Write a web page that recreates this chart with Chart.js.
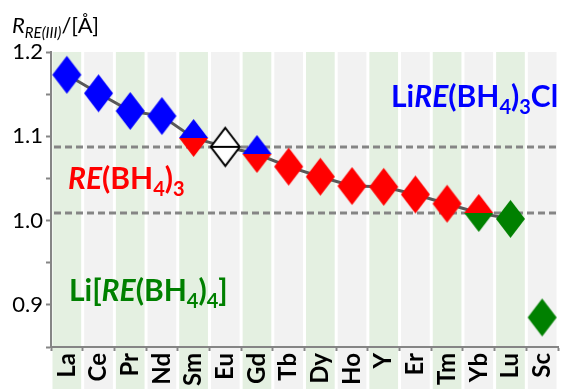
<!DOCTYPE html>
<html>
<head>
<meta charset="utf-8">
<script src="https://cdn.jsdelivr.net/npm/chart.js@4"></script>
<style>
  html, body { margin: 0; padding: 0; background: #fff; }
  #wrap { width: 574px; height: 389px; }
</style>
</head>
<body>
<div id="wrap"><canvas id="radii-chart" width="574" height="389"></canvas></div>
<script>
// Data
const elements = ['La', 'Ce', 'Pr', 'Nd', 'Sm', 'Eu', 'Gd', 'Tb', 'Dy', 'Ho', 'Y', 'Er', 'Tm', 'Yb', 'Lu', 'Sc'];
const radii = [1.173, 1.151, 1.130, 1.124, 1.098, 1.0875, 1.079, 1.064, 1.052, 1.041, 1.040, 1.031, 1.020, 1.009, 1.002, 0.885];
// which compound family exists for each element
const chlorideSet = ['La', 'Ce', 'Pr', 'Nd', 'Sm', 'Gd'];
const borohydrideSet = ['Sm', 'Gd', 'Tb', 'Dy', 'Ho', 'Y', 'Er', 'Tm', 'Yb'];
const lithiumSet = ['Yb', 'Lu', 'Sc'];
// elements joined by the trend line
const trendElements = elements.slice(0, 15);
// radii where the structure family changes
const boundaries = [1.0875, 1.0095];
const yTicks = [0.9, 1.0, 1.1, 1.2];

const FONT = 'Lato, "Open Sans", sans-serif';
const BLUE = '#0000ff', RED = '#ff0000', GREEN = '#008000';

function diamond(top, bottom, open) {
    const w = 29, h = 38;
    const c = document.createElement('canvas');
    c.width = w + 4; c.height = h + 4;
    const g = c.getContext('2d');
    const cx = c.width / 2, cy = c.height / 2;
    const path = () => {
        g.beginPath();
        g.moveTo(cx, cy - h / 2);
        g.lineTo(cx + w / 2, cy);
        g.lineTo(cx, cy + h / 2);
        g.lineTo(cx - w / 2, cy);
        g.closePath();
    };
    if (open) {
        path();
        g.fillStyle = '#fff';
        g.fill();
        g.lineWidth = 2;
        g.strokeStyle = '#000';
        g.stroke();
        g.beginPath();
        g.moveTo(cx - w / 2, cy);
        g.lineTo(cx + w / 2, cy);
        g.stroke();
        return c;
    }
    g.save();
    path();
    g.clip();
    g.fillStyle = top;
    g.fillRect(0, 0, c.width, cy);
    g.fillStyle = bottom;
    g.fillRect(0, cy, c.width, c.height - cy);
    g.restore();
    return c;
}

const markers = elements.map(el => {
    const fams = [];
    if (chlorideSet.includes(el)) fams.push(BLUE);
    if (borohydrideSet.includes(el)) fams.push(RED);
    if (lithiumSet.includes(el)) fams.push(GREEN);
    if (fams.length === 0) return diamond(null, null, true);
    return diamond(fams[0], fams[fams.length - 1], false);
});

// draws a run of text pieces (italic / subscript) one after another
function drawRich(ctx, x, y, runs, size, color, subRatio) {
    ctx.save();
    ctx.fillStyle = color;
    ctx.textBaseline = 'alphabetic';
    ctx.textAlign = 'left';
    runs.forEach(r => {
        const s = r.sub ? Math.round(size * (subRatio || 0.68)) : size;
        ctx.font = (r.it ? 'italic ' : '') + (r.w || 'bold') + ' ' + s + 'px ' + FONT;
        ctx.fillText(r.t, x, y + (r.sub ? size * 0.24 : 0));
        x += ctx.measureText(r.t).width;
    });
    ctx.restore();
    return x;
}

const backdrop = {
    id: 'backdrop',
    beforeDraw(chart) {
        const { ctx, chartArea, scales } = chart;
        const x = scales.x;
        const half = (x.getPixelForValue(1) - x.getPixelForValue(0)) / 2;
        ctx.save();
        elements.forEach((el, i) => {
            const c = x.getPixelForValue(i);
            ctx.fillStyle = i % 2 === 0 ? '#e4f0e1' : '#f2f2f2';
            ctx.fillRect(c - half + 1.5, chartArea.top, half * 2 - 3, chart.height - chartArea.top);
        });
        ctx.restore();
    },
    beforeDatasetsDraw(chart) {
        const { ctx, chartArea, scales } = chart;
        ctx.save();
        ctx.strokeStyle = '#858585';
        ctx.lineWidth = 3;
        ctx.setLineDash([7, 4]);
        boundaries.forEach(v => {
            const y = Math.round(scales.y.getPixelForValue(v));
            ctx.beginPath();
            ctx.moveTo(chartArea.left + 3, y);
            ctx.lineTo(chartArea.right, y);
            ctx.stroke();
        });
        ctx.restore();
    },
    afterDraw(chart) {
        const ctx = chart.ctx;
        // axis title
        drawRich(ctx, 12, 33, [
            { t: 'R', it: true, w: 'normal' },
            { t: 'RE(III)', it: true, w: 'normal', sub: true },
            { t: '/[Å]', w: 'normal' }
        ], 22, '#000', 0.66);
        // family labels
        drawRich(ctx, 391, 107, [
            { t: 'Li' }, { t: 'RE', it: true }, { t: '(BH' }, { t: '4', sub: true },
            { t: ')' }, { t: '3', sub: true }, { t: 'Cl' }
        ], 30, BLUE);
        drawRich(ctx, 68, 189, [
            { t: 'RE', it: true }, { t: '(BH' }, { t: '4', sub: true },
            { t: ')' }, { t: '3', sub: true }
        ], 30, RED);
        drawRich(ctx, 69, 301, [
            { t: 'Li[' }, { t: 'RE', it: true }, { t: '(BH' }, { t: '4', sub: true },
            { t: ')' }, { t: '4', sub: true }, { t: ']' }
        ], 30, GREEN);
    }
};

const ctx = document.getElementById('radii-chart').getContext('2d');
const radiiChart = new Chart(ctx, {
    type: 'line',
    data: {
        labels: elements,
        datasets: [{
            label: 'radius',
            data: radii,
            showLine: false,
            pointStyle: markers,
            pointRadius: 15,
            order: 1
        }, {
            label: 'trend',
            data: trendElements.map(el => radii[elements.indexOf(el)]),
            borderColor: '#595959',
            borderWidth: 3,
            pointRadius: 0,
            tension: 0,
            order: 2
        }]
    },
    options: {
        responsive: false,
        animation: false,
        events: [],
        layout: { padding: { top: 52, right: 0, left: 0, bottom: 0 } },
        plugins: {
            legend: { display: false },
            tooltip: { enabled: false }
        },
        scales: {
            x: {
                offset: true,
                grid: {
                    offset: true,
                    drawOnChartArea: false,
                    tickLength: 4,
                    tickWidth: 2,
                    color: '#858585'
                },
                border: { color: '#858585', width: 2 },
                ticks: {
                    autoSkip: false,
                    minRotation: 90,
                    maxRotation: 90,
                    padding: 2,
                    color: '#000',
                    font: { family: FONT, size: 24, weight: 'bold' }
                },
                afterFit(scale) { scale.height = 42; }
            },
            y: {
                min: 0.85,
                max: 1.2,
                grid: {
                    drawOnChartArea: false,
                    tickLength: 5,
                    tickWidth: 2,
                    color: '#858585'
                },
                border: { color: '#858585', width: 2 },
                ticks: {
                    stepSize: 0.05,
                    padding: 3,
                    color: '#000',
                    font: { family: FONT, size: 22 },
                    callback(v) {
                        const hit = yTicks.find(t => Math.abs(t - v) < 1e-6);
                        return hit === undefined ? '' : hit.toFixed(1);
                    }
                },
                afterFit(scale) { scale.width = 51; }
            }
        }
    },
    plugins: [backdrop]
});
</script>
</body>
</html>
